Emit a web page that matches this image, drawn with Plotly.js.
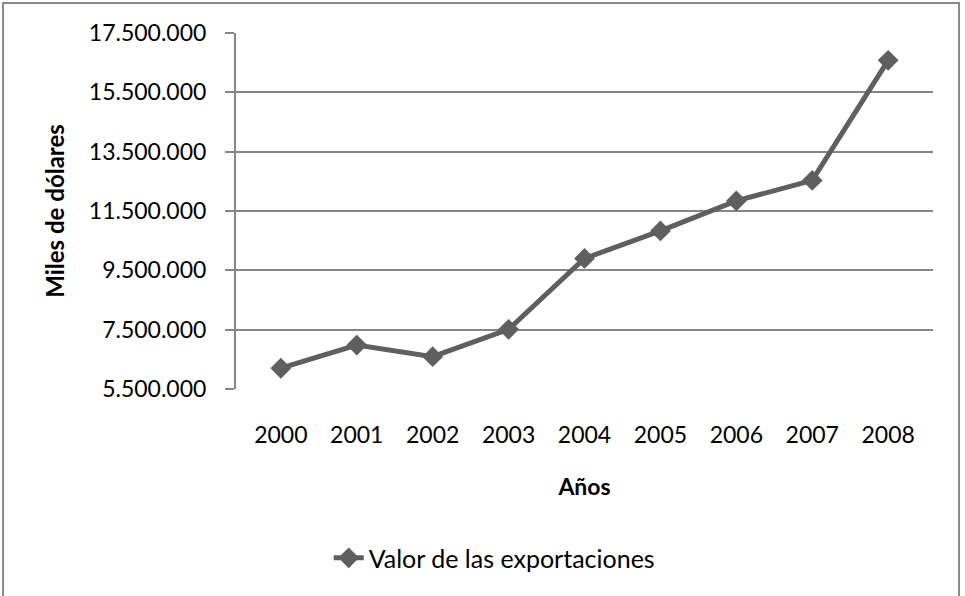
<!DOCTYPE html>
<html>
<head>
<meta charset="utf-8">
<script src="https://cdn.plot.ly/plotly-3.0.1.min.js"></script>
<style>
html,body{margin:0;padding:0;background:#fff;overflow:hidden;}
#frame{position:absolute;left:2px;top:2px;width:958px;height:620px;border:2px solid #8a8a8a;box-sizing:border-box;pointer-events:none;z-index:10;}
#chart{position:absolute;left:0;top:0;width:965px;height:596px;}
</style>
</head>
<body>
<div id="chart"></div>
<div id="frame"></div>
<script>
const years = ['2000','2001','2002','2003','2004','2005','2006','2007','2008'];
const exportValues = [6200000, 6980000, 6590000, 7510000, 9900000, 10830000, 11840000, 12530000, 16580000];
const yTicks = [5500000, 7500000, 9500000, 11500000, 13500000, 15500000, 17500000];
const seriesName = 'Valor de las exportaciones';
const xTitle = 'Años';
const yTitle = 'Miles de dólares';

const font = 'Lato, "Open Sans", sans-serif';
const trace = {
  x: years, y: exportValues, name: seriesName, type: 'scatter', mode: 'lines+markers',
  line: {color: '#5f5f5f', width: 5},
  marker: {symbol: 'diamond', size: 16, color: '#5f5f5f'},
  showlegend: true
};
const layout = {
  width: 965, height: 596,
  margin: {l: 236, r: 32, t: 33, b: 207},
  paper_bgcolor: '#fff', plot_bgcolor: '#fff',
  separators: ',.',
  font: {family: font, size: 23, color: '#000'},
  showlegend: true,
  legend: {orientation: 'h', x: 0.133, xanchor: 'left', y: -0.475, yanchor: 'middle', font: {size: 25}},
  xaxis: {
    type: 'category', showgrid: false, zeroline: false, showline: false, ticks: '',
    ticklabelstandoff: 30,
    title: {text: '<b>' + xTitle + '</b>', font: {size: 23}, standoff: 31}
  },
  yaxis: {
    range: [5500000, 17500000], tickvals: yTicks, tickformat: ',d',
    showgrid: true, gridcolor: '#868686', gridwidth: 2,
    showline: true, linecolor: '#868686', linewidth: 2,
    ticks: 'outside', ticklen: 9, tickcolor: '#868686', tickwidth: 2,
    ticklabelstandoff: 14, zeroline: false,
    title: {text: '<b>' + yTitle + '</b>', font: {size: 24}, standoff: 17}
  }
};
Plotly.newPlot('chart', [trace], layout, {displayModeBar: false, staticPlot: true});
</script>
</body>
</html>
